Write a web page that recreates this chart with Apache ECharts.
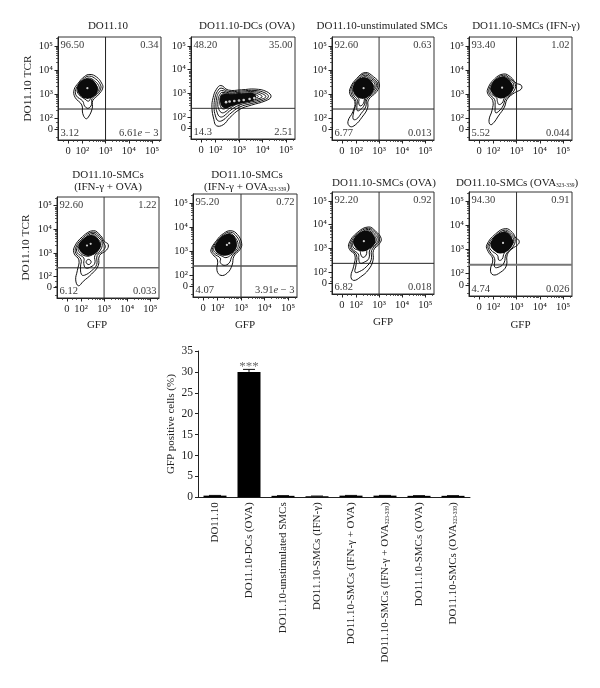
<!DOCTYPE html>
<html>
<head>
<meta charset="utf-8">
<style>html,body{margin:0;padding:0;background:#fff}#c{width:600px;height:688px}</style>
<script src="https://cdn.jsdelivr.net/npm/echarts@6/dist/echarts.min.js"></script>
</head>
<body>
<div id="c"></div>
<script>
// ---- Data: flow panels ----
const panelTitles = ['DO11.10','DO11.10-DCs (OVA)','DO11.10-unstimulated SMCs','DO11.10-SMCs (IFN-γ)',
  'DO11.10-SMCs\n(IFN-γ + OVA)','DO11.10-SMCs\n(IFN-γ + OVA323-339)','DO11.10-SMCs (OVA)','DO11.10-SMCs (OVA323-339)'];
const upperLeft  = ['96.50','48.20','92.60','93.40','92.60','95.20','92.20','94.30'];
const upperRight = ['0.34','35.00','0.63','1.02','1.22','0.72','0.92','0.91'];
const lowerLeft  = ['3.12','14.3','6.77','5.52','6.12','4.07','6.82','4.74'];
const lowerRight = ['6.61e − 3','2.51','0.013','0.044','0.033','3.91e − 3','0.018','0.026'];
const gfpTickValues = [1.39,2,3,4,5];
const gfpTickLabels = ['0','10²','10³','10⁴','10⁵'];
const tcrTickValues = [1.54,2,3,4,5];
const tcrTickLabels = ['0','10²','10³','10⁴','10⁵'];
const minorTickValues = [1.2,1.6,1.8,2.3,2.48,2.6,2.7,2.78,2.85,2.9,2.95,3.3,3.48,3.6,3.7,3.78,3.85,3.9,3.95,4.3,4.48,4.6,4.7,4.78,4.85,4.9,4.95,5.3];
const gfpGate = 3;
const tcrGate = 2.37;

const contours1 = [
 [[2.33,3.81],[2.62,3.70],[2.83,3.45],[2.88,3.24],[2.69,2.96],[2.45,2.72],[2.43,2.40],[2.26,2.03],[2.15,1.97],[2.02,2.19],[1.98,2.54],[1.69,2.86],[1.65,3.17],[1.83,3.45],[2.09,3.72]],
 [[2.32,3.74],[2.58,3.62],[2.76,3.42],[2.80,3.24],[2.65,3.00],[2.42,2.80],[2.40,2.55],[2.25,2.40],[2.10,2.50],[2.02,2.70],[1.75,2.92],[1.72,3.17],[1.88,3.43],[2.10,3.66]],
 [[2.30,3.66],[2.52,3.55],[2.70,3.36],[2.72,3.20],[2.58,3.00],[2.38,2.85],[2.28,2.70],[2.12,2.78],[1.85,2.98],[1.78,3.18],[1.92,3.42],[2.12,3.60]],
 [[2.30,3.60],[2.50,3.48],[2.63,3.30],[2.62,3.14],[2.45,2.98],[2.25,2.90],[2.00,3.00],[1.87,3.18],[1.97,3.40],[2.14,3.55]],
 [[2.26,3.46],[2.42,3.34],[2.48,3.18],[2.38,3.04],[2.20,2.98],[2.05,3.06],[1.97,3.22],[2.05,3.38]]
];
const contours2 = [
 [[2.23,3.33],[2.54,3.14],[3.11,3.15],[3.68,3.18],[4.18,3.07],[4.36,2.86],[4.11,2.68],[3.54,2.51],[3.04,2.33],[2.61,1.98],[2.33,1.68],[2.04,1.64],[1.93,1.91],[1.85,2.40],[1.90,2.82],[2.04,3.17]],
 [[2.24,3.22],[2.55,3.08],[3.10,3.10],[3.68,3.12],[4.10,3.02],[4.25,2.86],[4.05,2.72],[3.52,2.57],[3.02,2.42],[2.60,2.12],[2.33,1.88],[2.12,1.84],[2.00,2.05],[1.94,2.42],[1.98,2.82],[2.08,3.08]],
 [[2.26,3.12],[2.58,3.02],[3.10,3.05],[3.65,3.07],[4.00,2.98],[4.14,2.86],[3.98,2.76],[3.50,2.63],[3.00,2.50],[2.60,2.26],[2.35,2.04],[2.18,2.02],[2.07,2.20],[2.02,2.46],[2.05,2.80],[2.12,3.00]],
 [[2.28,3.04],[2.60,2.98],[3.10,3.00],[3.60,3.02],[3.88,2.95],[3.98,2.86],[3.85,2.78],[3.45,2.68],[3.00,2.58],[2.62,2.38],[2.38,2.20],[2.24,2.20],[2.13,2.36],[2.10,2.52],[2.12,2.78],[2.18,2.94]],
 [[2.32,2.98],[2.60,2.94],[3.10,2.96],[3.50,2.98],[3.74,2.93],[3.82,2.86],[3.70,2.80],[3.40,2.72],[3.00,2.64],[2.65,2.50],[2.42,2.36],[2.28,2.36],[2.20,2.50],[2.18,2.70],[2.22,2.88]],
 [[2.35,2.84],[2.70,2.84],[3.10,2.86],[3.50,2.90],[3.60,2.84],[3.40,2.76],[3.00,2.68],[2.65,2.58],[2.42,2.50],[2.34,2.58],[2.32,2.74]]
];
const contours3 = [
 [[2.40,3.89],[2.75,3.72],[3.01,3.42],[2.90,3.10],[2.54,2.75],[2.50,2.40],[2.26,2.03],[1.97,1.71],[1.75,1.64],[1.65,1.85],[1.87,2.27],[1.95,2.68],[1.75,2.96],[1.75,3.24],[2.04,3.65]],
 [[2.40,3.84],[2.72,3.66],[2.94,3.42],[2.84,3.12],[2.48,2.78],[2.42,2.46],[2.22,2.18],[2.02,1.95],[1.88,1.95],[1.90,2.25],[2.00,2.68],[1.82,2.96],[1.80,3.24],[2.07,3.62]],
 [[2.40,3.78],[2.68,3.62],[2.88,3.42],[2.78,3.14],[2.44,2.82],[2.36,2.54],[2.20,2.35],[2.06,2.30],[2.04,2.52],[2.06,2.74],[1.88,2.98],[1.86,3.24],[2.10,3.58]],
 [[2.40,3.72],[2.64,3.58],[2.82,3.40],[2.72,3.14],[2.40,2.86],[2.32,2.60],[2.18,2.50],[2.12,2.62],[2.12,2.80],[1.94,3.00],[1.92,3.24],[2.14,3.54]],
 [[2.38,3.66],[2.60,3.52],[2.74,3.36],[2.62,3.14],[2.36,2.92],[2.14,2.96],[1.98,3.08],[1.98,3.28],[2.16,3.50]],
 [[2.38,3.50],[2.54,3.38],[2.58,3.22],[2.46,3.06],[2.28,2.98],[2.12,3.08],[2.06,3.26],[2.18,3.44]]
];
const contours4 = [
 [[2.45,3.83],[2.75,3.70],[2.98,3.45],[3.20,3.36],[3.20,3.20],[2.92,3.05],[2.60,2.78],[2.48,2.45],[2.22,2.08],[2.02,1.80],[1.88,1.72],[1.82,1.92],[1.95,2.32],[1.98,2.72],[1.78,2.98],[1.76,3.20],[2.05,3.62]],
 [[2.45,3.78],[2.72,3.64],[2.95,3.40],[2.86,3.08],[2.54,2.80],[2.42,2.50],[2.24,2.28],[2.10,2.22],[2.08,2.50],[2.06,2.76],[1.84,3.00],[1.82,3.20],[2.08,3.58]],
 [[2.45,3.72],[2.70,3.60],[2.88,3.38],[2.78,3.10],[2.50,2.86],[2.38,2.62],[2.24,2.56],[2.18,2.68],[2.14,2.84],[1.90,3.02],[1.88,3.20],[2.12,3.54]],
 [[2.45,3.66],[2.66,3.54],[2.80,3.35],[2.70,3.12],[2.46,2.92],[2.20,2.92],[1.98,3.06],[1.94,3.22],[2.16,3.50]],
 [[2.42,3.54],[2.58,3.42],[2.66,3.26],[2.54,3.08],[2.32,3.00],[2.14,3.10],[2.08,3.26],[2.22,3.46]]
];
const contours5 = [
 [[2.54,3.94],[2.85,3.73],[3.01,3.49],[3.18,3.35],[3.11,3.12],[2.80,2.88],[2.75,2.46],[2.46,2.10],[2.10,1.79],[1.89,1.60],[1.77,1.85],[1.84,2.24],[1.91,2.70],[1.71,2.95],[1.71,3.24],[2.07,3.69]],
 [[2.52,3.88],[2.82,3.68],[2.98,3.42],[3.05,3.25],[2.92,3.06],[2.70,2.88],[2.68,2.50],[2.46,2.24],[2.16,2.05],[2.02,2.08],[1.98,2.40],[2.00,2.72],[1.78,2.97],[1.78,3.24],[2.10,3.64]],
 [[2.52,3.82],[2.78,3.63],[2.92,3.40],[2.82,3.08],[2.60,2.88],[2.60,2.56],[2.42,2.40],[2.20,2.36],[2.12,2.55],[2.12,2.78],[1.84,3.00],[1.84,3.24],[2.14,3.60]],
 [[2.52,3.76],[2.74,3.58],[2.85,3.38],[2.74,3.10],[2.50,2.92],[2.22,2.86],[1.92,3.04],[1.90,3.24],[2.18,3.56]],
 [[2.32,2.72],[2.44,2.62],[2.34,2.50],[2.22,2.60]],
 [[2.50,3.68],[2.68,3.52],[2.76,3.34],[2.64,3.12],[2.40,2.98],[2.14,3.02],[1.98,3.16],[2.00,3.30],[2.22,3.54]],
 [[2.46,3.56],[2.62,3.42],[2.64,3.26],[2.48,3.12],[2.28,3.06],[2.12,3.18],[2.10,3.30],[2.26,3.48]]
];
const contours6 = [
 [[2.57,3.84],[2.85,3.68],[3.03,3.30],[2.95,3.05],[2.70,2.78],[2.62,2.40],[2.42,2.08],[2.15,1.98],[1.98,2.18],[2.00,2.62],[1.80,2.85],[1.72,3.04],[1.95,3.42],[2.25,3.72]],
 [[2.55,3.78],[2.80,3.62],[2.96,3.28],[2.88,3.05],[2.62,2.78],[2.50,2.50],[2.28,2.40],[2.12,2.52],[2.12,2.70],[1.86,2.88],[1.78,3.06],[1.98,3.40],[2.28,3.68]],
 [[2.53,3.72],[2.75,3.56],[2.88,3.26],[2.80,3.04],[2.56,2.82],[2.36,2.72],[2.20,2.78],[1.92,2.92],[1.84,3.07],[2.02,3.38],[2.30,3.62]],
 [[2.52,3.66],[2.72,3.50],[2.80,3.24],[2.70,3.02],[2.48,2.88],[2.22,2.86],[1.98,2.98],[1.92,3.10],[2.08,3.36],[2.32,3.58]],
 [[2.50,3.52],[2.62,3.36],[2.60,3.14],[2.42,3.00],[2.22,3.00],[2.08,3.10],[2.16,3.30],[2.34,3.48]]
];
const contours7 = [
 [[2.54,3.90],[2.85,3.72],[3.09,3.42],[3.02,3.20],[2.76,2.92],[2.74,2.50],[2.54,2.10],[2.20,1.80],[1.90,1.65],[1.78,1.82],[1.90,2.25],[1.95,2.72],[1.72,2.95],[1.70,3.22],[2.05,3.66]],
 [[2.54,3.85],[2.82,3.67],[3.02,3.42],[2.94,3.20],[2.68,2.92],[2.66,2.52],[2.44,2.22],[2.14,2.02],[1.96,2.00],[2.00,2.30],[2.02,2.72],[1.78,2.97],[1.76,3.22],[2.08,3.62]],
 [[2.54,3.80],[2.78,3.62],[2.96,3.40],[2.86,3.18],[2.60,2.94],[2.56,2.58],[2.36,2.42],[2.18,2.38],[2.12,2.55],[2.10,2.76],[1.84,2.98],[1.82,3.22],[2.12,3.58]],
 [[2.54,3.74],[2.74,3.58],[2.88,3.38],[2.78,3.18],[2.50,2.98],[2.44,2.72],[2.30,2.62],[2.20,2.76],[2.18,2.88],[1.90,3.02],[1.88,3.24],[2.16,3.54]],
 [[2.52,3.68],[2.70,3.52],[2.80,3.36],[2.68,3.16],[2.44,3.02],[2.18,3.02],[1.96,3.12],[1.96,3.26],[2.20,3.50]],
 [[2.46,3.56],[2.62,3.42],[2.64,3.28],[2.48,3.14],[2.28,3.06],[2.12,3.16],[2.08,3.32],[2.26,3.50]]
];
const contours8 = [
 [[2.53,3.86],[2.82,3.70],[2.98,3.46],[3.10,3.38],[3.08,3.22],[2.80,3.02],[2.60,2.78],[2.56,2.32],[2.30,2.05],[2.00,1.95],[1.88,2.15],[1.98,2.60],[1.78,2.92],[1.72,3.18],[2.10,3.64]],
 [[2.53,3.80],[2.78,3.64],[2.94,3.42],[2.84,3.10],[2.56,2.82],[2.46,2.44],[2.26,2.28],[2.06,2.28],[2.06,2.62],[1.84,2.94],[1.78,3.18],[2.14,3.60]],
 [[2.53,3.74],[2.74,3.60],[2.88,3.40],[2.76,3.12],[2.48,2.86],[2.38,2.60],[2.24,2.56],[2.18,2.76],[1.90,2.98],[1.84,3.18],[2.18,3.56]],
 [[2.53,3.68],[2.70,3.54],[2.80,3.36],[2.68,3.12],[2.44,2.92],[2.20,2.92],[1.96,3.04],[1.92,3.20],[2.22,3.52]],
 [[2.50,3.54],[2.62,3.42],[2.66,3.28],[2.52,3.10],[2.30,3.02],[2.14,3.12],[2.08,3.24],[2.24,3.46]]
];
const peakPoints = [
 [[2.22,3.24]],
 [[2.45,2.63],[2.6,2.66],[2.8,2.68],[3.0,2.70],[3.2,2.72],[3.45,2.76],[3.65,2.80]],
 [[2.33,3.24]],
 [[2.38,3.26]],
 [[2.26,3.31],[2.42,3.38]],
 [[2.40,3.25],[2.50,3.32]],
 [[2.34,3.30]],
 [[2.42,3.27]]
];
const allContours = [contours1,contours2,contours3,contours4,contours5,contours6,contours7,contours8];

// ---- Data: bar chart ----
const barCategories = ['DO11.10','DO11.10-DCs (OVA)','DO11.10-unstimulated SMCs','DO11.10-SMCs (IFN-γ)',
  'DO11.10-SMCs (IFN-γ + OVA)','DO11.10-SMCs (IFN-γ + OVA323-339)','DO11.10-SMCs (OVA)','DO11.10-SMCs (OVA323-339)'];
const barValues = [0.4,30,0.35,0.25,0.4,0.4,0.35,0.35];
const barErrorTop = [0.45,30.6,0.4,0.3,0.45,0.45,0.4,0.4];
const significance = [{cat:'DO11.10-DCs (OVA)',y:30.9,text:'***'}];
const barTicks = 5, barMax = 35;

// ---- Layout (pixels) ----
const FONT = '"Liberation Serif","Times New Roman",serif';
const boxes = [[58,37,103,103],[191,37,104,102],[332,37,102,103],[469,37,103,103],
               [57,197,102,101],[193,194,104,103],[332,192,102,102],[469,192,103,104]];
const titleAt = [[108,20],[247,20],[382,20],[526,20],[108,169],[247,169],[384,177],[517,177]];
const gateWidth = [[1,1],[1.6,1],[1,1],[1,1],[1,1.5],[1,1.5],[1,1],[1,1.8]];
const gateColor = [['#222','#222'],['#777','#333'],['#333','#222'],['#222','#222'],['#333','#666'],['#333','#555'],['#333','#222'],['#333','#777']];
const gfpPad = [0,0,0,0,22,0,0,0];
const gfpGap = [0,0,0,0,22,23,23,24];
const coreStroke = [9,6,9,9,9,9,9,9];
const X_MIN=0.96,X_MAX=5.38,Y_MIN=1.08,Y_MAX=5.37,TOP_V=5.03,BOT_V=1.36;

const sub = s => s.replace('323-339','{s|323-339}');
const rich = {s:{fontFamily:FONT,fontSize:5.5,verticalAlign:'bottom',padding:[5,0,0,0],color:'#222'},
              i:{fontFamily:FONT,fontSize:10.5,fontStyle:'italic',color:'#000'}};
const title=[],grid=[],xAxis=[],yAxis=[],series=[];

boxes.forEach((b,i)=>{
  title.push({text:sub(panelTitles[i]),left:titleAt[i][0],top:titleAt[i][1],textAlign:'center',itemGap:0,padding:0,
    textStyle:{fontFamily:FONT,fontSize:11,fontWeight:'normal',color:'#222',lineHeight:12,rich}});
  grid.push({left:b[0],top:b[1],width:b[2],height:b[3],show:true,borderColor:'#333',borderWidth:1,backgroundColor:'transparent'});
  const line={show:true,onZero:false,lineStyle:{color:'#222',width:1}};
  const base={type:'value',gridIndex:i,min:X_MIN,max:X_MAX,splitLine:{show:false},axisLine:line};
  xAxis.push(Object.assign({},base,{
    name:i>=4?'GFP':'',nameLocation:'middle',nameGap:gfpGap[i],
    nameTextStyle:{fontFamily:FONT,fontSize:11,color:'#222',padding:[0,gfpPad[i],0,0]},
    axisTick:{show:true,length:3.5,customValues:gfpTickValues,lineStyle:{color:'#222'}},
    axisLabel:{show:true,margin:6,customValues:gfpTickValues.slice(0),hideOverlap:false,showMinLabel:true,showMaxLabel:true,
      fontFamily:FONT,fontSize:10.5,color:'#222',formatter:v=>gfpTickLabels[gfpTickValues.indexOf(v)]||''}}));
  yAxis.push({type:'value',gridIndex:i,min:Y_MIN,max:Y_MAX,splitLine:{show:false},axisLine:line,
    name:(i===0||i===4)?'DO11.10 TCR':'',nameLocation:'middle',nameGap:i===0?24:25,
    nameTextStyle:{fontFamily:FONT,fontSize:11.3,color:'#222'},
    axisTick:{show:true,length:3.5,customValues:tcrTickValues,lineStyle:{color:'#222'}},
    axisLabel:{show:true,margin:5,customValues:tcrTickValues.slice(0),hideOverlap:false,
      fontFamily:FONT,fontSize:10.5,color:'#222',formatter:v=>tcrTickLabels[tcrTickValues.indexOf(v)]||''}});
});
// second axis pair per panel for the short ticks
boxes.forEach((b,i)=>{
  xAxis.push({type:'value',gridIndex:i,min:X_MIN,max:X_MAX,position:'bottom',splitLine:{show:false},axisLine:{show:false,onZero:false},
    axisLabel:{show:false},axisTick:{show:true,length:2,customValues:minorTickValues,lineStyle:{color:'#333',width:0.8}}});
  yAxis.push({type:'value',gridIndex:i,min:Y_MIN,max:Y_MAX,position:'left',splitLine:{show:false},axisLine:{show:false,onZero:false},
    axisLabel:{show:false},axisTick:{show:true,length:2,customValues:minorTickValues,lineStyle:{color:'#333',width:0.8}}});
});
boxes.forEach((b,i)=>{
  const ax={xAxisIndex:i,yAxisIndex:i};
  const rings=allContours[i];
  series.push(Object.assign({type:'custom',silent:true,z:3,clip:true,
    data:rings.map((r,k)=>[r[0][0],r[0][1],k]),
    renderItem:(p,api)=>{
      const k=api.value(2);
      const last=k===rings.length-1;
      return {type:'polygon',
        shape:{points:rings[k].map(pt=>api.coord(pt)),smooth:0.45},
        style:{fill:last?'#0b0b0b':'none',stroke:last?'#0b0b0b':'#111',lineWidth:last?coreStroke[i]:1}};
    }},ax));
  series.push(Object.assign({type:'scatter',data:peakPoints[i],symbolSize:i===1?2.6:2.2,silent:true,
    itemStyle:{color:'#fff'},z:4},ax));
  series.push(Object.assign({type:'line',data:[[gfpGate,Y_MIN],[gfpGate,Y_MAX]],showSymbol:false,silent:true,
    lineStyle:{color:gateColor[i][0],width:gateWidth[i][0]},z:2},ax));
  series.push(Object.assign({type:'line',data:[[X_MIN,tcrGate],[X_MAX,tcrGate]],showSymbol:false,silent:true,
    lineStyle:{color:gateColor[i][1],width:gateWidth[i][1]},z:2},ax));
  const q=(x,y,t,pos)=>({value:[x,y],label:{formatter:t.replace('e','{i|e}'),position:pos,color:'#000'}});
  series.push(Object.assign({type:'scatter',symbolSize:1,itemStyle:{color:'transparent'},silent:true,z:5,
    label:{show:true,distance:2,fontFamily:FONT,fontSize:10.5,color:'#000',rich},
    data:[q(X_MIN,TOP_V,upperLeft[i],'right'),q(X_MAX,TOP_V,upperRight[i],'left'),
          q(X_MIN,BOT_V,lowerLeft[i],'right'),q(X_MAX,BOT_V,lowerRight[i],'left')]},ax));
});

// bar chart
const G=boxes.length;
grid.push({left:198,top:351,width:272,height:146.3});
xAxis.push({type:'category',gridIndex:G,data:barCategories,axisTick:{show:false},
  axisLine:{lineStyle:{color:'#222',width:1}},
  axisLabel:{rotate:90,interval:0,margin:5,fontFamily:FONT,fontSize:11,color:'#222',formatter:sub,
    rich:{s:{fontFamily:FONT,fontSize:5.5,color:'#222',verticalAlign:'bottom',padding:[5,0,0,0]}}}});
yAxis.push({type:'value',gridIndex:G,min:0,max:barMax,interval:barTicks,splitLine:{show:false},
  name:'GFP positive cells (%)',nameLocation:'middle',nameGap:21,
  nameTextStyle:{fontFamily:FONT,fontSize:11,color:'#222'},
  axisLine:{show:true,lineStyle:{color:'#222',width:1}},axisTick:{show:true,length:3,lineStyle:{color:'#222'}},
  axisLabel:{margin:5,fontFamily:FONT,fontSize:11.5,color:'#222'}});
const gx=boxes.length*2, gy=boxes.length*2;
series.push({type:'bar',xAxisIndex:gx,yAxisIndex:gy,data:barValues,barWidth:23,itemStyle:{color:'#000'},silent:true});
series.push({type:'custom',xAxisIndex:gx,yAxisIndex:gy,silent:true,z:1,
  data:barErrorTop.map((t,i)=>[i,barValues[i],t]),
  renderItem:(p,api)=>{
    const a=api.coord([api.value(0),api.value(1)]), c=api.coord([api.value(0),api.value(2)]);
    const st={stroke:'#111',lineWidth:1};
    return {type:'group',children:[
      {type:'line',shape:{x1:a[0],y1:a[1],x2:c[0],y2:c[1]},style:st},
      {type:'line',shape:{x1:c[0]-6,y1:c[1],x2:c[0]+6,y2:c[1]},style:st}]};
  }});
series.push({type:'scatter',xAxisIndex:gx,yAxisIndex:gy,symbolSize:1,itemStyle:{color:'transparent'},silent:true,
  data:significance.map(s=>({value:[s.cat,s.y],label:{formatter:s.text}})),
  label:{show:true,position:'top',distance:-5,fontFamily:FONT,fontSize:13,color:'#444'}});

const chart=echarts.init(document.getElementById('c'),null,{renderer:'canvas'});
chart.setOption({animation:false,backgroundColor:'#fff',title,grid,xAxis,yAxis,series});
</script>
</body>
</html>
